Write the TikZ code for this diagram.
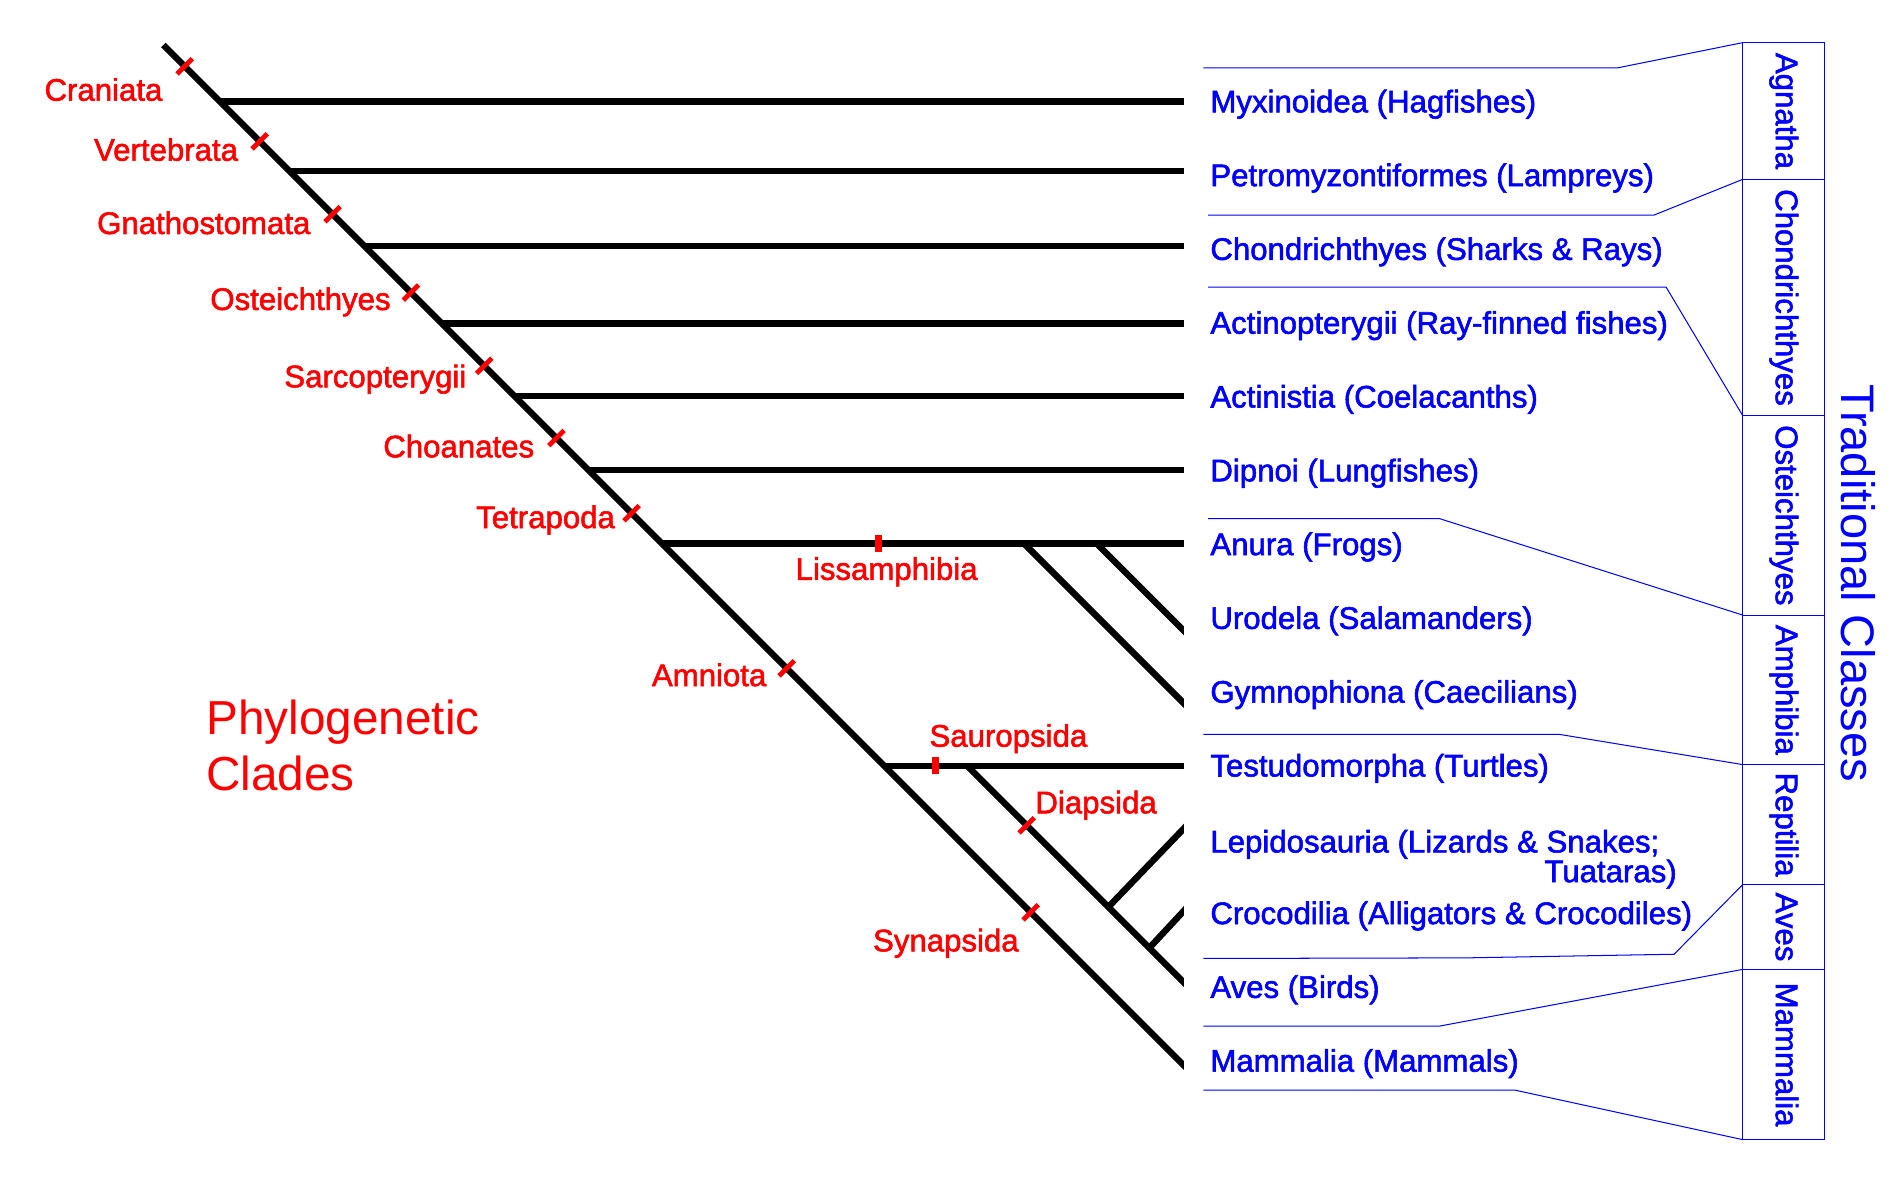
\documentclass[tikz,border=0pt]{standalone}
\usepackage{fontspec}
\setmainfont{Liberation Sans}
\newfontfamily\heavyfont[FakeBold=1.8]{Liberation Sans}
\begin{document}
\begin{tikzpicture}[x=0.025cm, y=-0.025cm,
		branch/.style={line width=3.8pt},
		tick/.style={red, line width=2.8pt},
		bartick/.style={red, line width=4.2pt},
		clade/.style={red, inner sep=0pt, font=\heavyfont\fontsize{18.3}{22}\selectfont},
		taxon/.style={blue, inner sep=0pt, anchor=base west, font=\heavyfont\fontsize{18.3}{22}\selectfont},
		class/.style={blue, inner sep=0pt, rotate=-90, anchor=base, font=\heavyfont\fontsize{18.3}{22}\selectfont},
		sep/.style={blue, line width=0.6pt}]
		\useasboundingbox (0,0) rectangle (1568,990);
		\coordinate (edge) at (990,0);
		\coordinate (root) at (134.8,37.1);
		\coordinate (craniata) at (181.4,83.7);
		\coordinate (vertebrata) at (238.9,141.2);
		\coordinate (gnatho) at (300.8,203.1);
		\coordinate (osteich) at (364.6,266.9);
		\coordinate (sarco) at (424.6,326.9);
		\coordinate (choan) at (485.6,387.9);
		\coordinate (tetra) at (546.2,448.5);
		\coordinate (liss_a) at (845,448.5);
		\coordinate (liss_b) at (905,448.5);
		\coordinate (amnio) at (729.7,632);
		\coordinate (diap) at (798.2,632);
		\coordinate (lepi_fork) at (914.7,748.5);
		\coordinate (croc_fork) at (948.5,782.3);
		\begin{scope}
			\clip (0,0) rectangle (977,990);
			\draw [branch] (root) -- ++(870,870);
			\draw [branch] (craniata) -- (craniata -| edge);
			\draw [branch] (vertebrata) -- (vertebrata -| edge);
			\draw [branch] (gnatho) -- (gnatho -| edge);
			\draw [branch] (osteich) -- (osteich -| edge);
			\draw [branch] (sarco) -- (sarco -| edge);
			\draw [branch] (choan) -- (choan -| edge);
			\draw [branch] (tetra) -- (tetra -| edge);
			\draw [branch] (liss_a) -- ++(145,145);
			\draw [branch] (liss_b) -- ++(85,85);
			\draw [branch] (amnio) -- (amnio -| edge);
			\draw [branch] (diap) -- ++(190,190);
			\draw [branch] (lepi_fork) -- ++(75,-78);
			\draw [branch] (croc_fork) -- ++(40,-43);
		\end{scope}
		\draw [tick] (152.4,54.7) +(-6.3,6.3) -- +(6.3,-6.3);
		\draw [tick] (214.3,116.6) +(-6.3,6.3) -- +(6.3,-6.3);
		\draw [tick] (274.5,176.8) +(-6.3,6.3) -- +(6.3,-6.3);
		\draw [tick] (339.1,241.4) +(-6.3,6.3) -- +(6.3,-6.3);
		\draw [tick] (399.6,301.9) +(-6.3,6.3) -- +(6.3,-6.3);
		\draw [tick] (459.2,361.5) +(-6.3,6.3) -- +(6.3,-6.3);
		\draw [tick] (521.2,423.5) +(-6.3,6.3) -- +(6.3,-6.3);
		\draw [tick] (649.2,551.5) +(-6.3,6.3) -- +(6.3,-6.3);
		\draw [tick] (850.6,752.9) +(-6.3,6.3) -- +(6.3,-6.3);
		\draw [tick] (847.3,681.1) +(-6.3,6.3) -- +(6.3,-6.3);
		\draw [bartick] (725.3,441.5) -- (725.3,455.5);
		\draw [bartick] (771.8,625) -- (771.8,639);
		\node [clade, anchor=base east] (l_craniata) at (134.3,83.1) {Craniata};
		\node [clade, anchor=base east] (l_vertebrata) at (196.7,132.6) {Vertebrata};
		\node [clade, anchor=base east] (l_gnatho) at (256.4,193.1) {Gnathostomata};
		\node [clade, anchor=base east] (l_osteich) at (322.6,255.8) {Osteichthyes};
		\node [clade, anchor=base east] (l_sarco) at (385.1,319.6) {Sarcopterygii};
		\node [clade, anchor=base east] (l_choan) at (441.1,377.4) {Choanates};
		\node [clade, anchor=base east] (l_tetra) at (507.7,435.8) {Tetrapoda};
		\node [clade, anchor=base west] (l_liss) at (656.3,478.5) {Lissamphibia};
		\node [clade, anchor=base east] (l_amnio) at (632.7,566.2) {Amniota};
		\node [clade, anchor=base west] (l_sauro) at (766.8,616.2) {Sauropsida};
		\node [clade, anchor=base west] (l_diap) at (854.2,671.2) {Diapsida};
		\node [clade, anchor=base west] (l_synap) at (720.2,785.1) {Synapsida};
		\node [clade, anchor=base west, font=\fontsize{28}{32}\selectfont] (phylo) at (170,605.8) {Phylogenetic};
		\node [clade, anchor=base west, font=\fontsize{28}{32}\selectfont] (clades) at (170,652.1) {Clades};
		\node [taxon] (myx) at (998.6,92.7) {Myxinoidea (Hagfishes)};
		\node [taxon] (petro) at (998.6,153.6) {Petromyzontiformes (Lampreys)};
		\node [taxon] (chond) at (998.6,214.5) {Chondrichthyes (Sharks \& Rays)};
		\node [taxon] (actino) at (998.6,275.4) {Actinopterygii (Ray-finned fishes)};
		\node [taxon] (actini) at (998.6,336.3) {Actinistia (Coelacanths)};
		\node [taxon] (dipnoi) at (998.6,397.2) {Dipnoi (Lungfishes)};
		\node [taxon] (anura) at (998.6,458.1) {Anura (Frogs)};
		\node [taxon] (urodela) at (998.6,519) {Urodela (Salamanders)};
		\node [taxon] (gymno) at (998.6,579.9) {Gymnophiona (Caecilians)};
		\node [taxon] (testudo) at (998.6,640.8) {Testudomorpha (Turtles)};
		\node [taxon] (lepido) at (998.6,703.5) {Lepidosauria (Lizards \& Snakes;};
		\node [taxon, anchor=base east] (tuatara) at (1384,728) {Tuataras)};
		\node [taxon] (croco) at (998.6,762.6) {Crocodilia (Alligators \& Crocodiles)};
		\node [taxon] (aves) at (998.6,823.5) {Aves (Birds)};
		\node [taxon] (mammalia) at (998.6,884.4) {Mammalia (Mammals)};
		\coordinate (c0) at (1438.2,35.2);
		\coordinate (c1) at (1438.2,148);
		\coordinate (c2) at (1438.2,343);
		\coordinate (c3) at (1438.2,507.6);
		\coordinate (c4) at (1438.2,631);
		\coordinate (c5) at (1438.2,730);
		\coordinate (c6) at (1438.2,800);
		\coordinate (c7) at (1438.2,940.5);
		\draw [sep] (c0) rectangle (1505.6,940.5);
		\draw [sep] (c1) -- ++(67.4,0);
		\draw [sep] (c2) -- ++(67.4,0);
		\draw [sep] (c3) -- ++(67.4,0);
		\draw [sep] (c4) -- ++(67.4,0);
		\draw [sep] (c5) -- ++(67.4,0);
		\draw [sep] (c6) -- ++(67.4,0);
		\draw [sep] (993,56) -- (1335,56) -- (c0);
		\draw [sep] (997,177.5) -- (1365,177.5) -- (c1);
		\draw [sep] (997,237) -- (1375,237) -- (c2);
		\draw [sep] (997,428) -- (1188,428) -- (c3);
		\draw [sep] (993,606) -- (1286.6,606) -- (c4);
		\draw [sep] (993,791) -- (1210,790.5) -- (1381.6,787.5) -- (c5);
		\draw [sep] (993,846.8) -- (1188,846.8) -- (c6);
		\draw [sep] (993,899.6) -- (1250,899.6) -- (c7);
		\node [class] (agnatha) at (1465.5,91.6) {Agnatha};
		\node [class] (k_chond) at (1465.5,245.5) {Chondrichthyes};
		\node [class] (k_osteich) at (1465.5,425.3) {Osteichthyes};
		\node [class] (amphibia) at (1465.5,569.3) {Amphibia};
		\node [class] (reptilia) at (1465.5,680.5) {Reptilia};
		\node [class] (k_aves) at (1465.5,765) {Aves};
		\node [class] (k_mamm) at (1465.5,870.3) {Mammalia};
		\node [class, font=\fontsize{27.6}{32}\selectfont] (tradition) at (1520,481.3) {Traditional Classes};
	\end{tikzpicture}
\end{document}
